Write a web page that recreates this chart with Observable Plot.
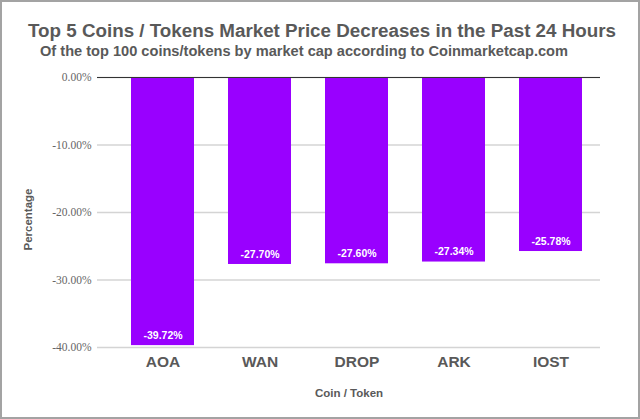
<!DOCTYPE html>
<html>
<head>
<meta charset="utf-8">
<script src="https://cdn.jsdelivr.net/npm/d3@7"></script>
<script src="https://cdn.jsdelivr.net/npm/@observablehq/plot@0.6"></script>
<style>
  html, body { margin: 0; padding: 0; background: #fff; }
  #wrap { position: relative; width: 640px; height: 419px; overflow: hidden; background: #fff; }
  #frame { position: absolute; left: 0; top: 0; width: 640px; height: 419px; box-sizing: border-box; border: 2px solid #a3a3a3; pointer-events: none; }
  #head { height: 65px; position: relative; font-family: "Liberation Sans", Arial, sans-serif; font-weight: bold; color: #595959; }
  #title { position: absolute; left: 2px; width: 640px; top: 20px; text-align: center; font-size: 18.8px; line-height: 22px; }
  #subtitle { position: absolute; left: 40px; top: 42px; font-size: 14.6px; line-height: 18px; }
  svg { display: block; }
</style>
</head>
<body>
<div id="wrap">
  <div id="head">
    <div id="title">Top 5 Coins / Tokens Market Price Decreases in the Past 24 Hours</div>
    <div id="subtitle">Of the top 100 coins/tokens by market cap according to Coinmarketcap.com</div>
  </div>
  <div id="chart"></div>
  <div id="frame"></div>
</div>
<script>
const coins = ["AOA", "WAN", "DROP", "ARK", "IOST"];
const changes = [-39.72, -27.70, -27.60, -27.34, -25.78];
const yTicks = [0, -10, -20, -30, -40];
const xTitle = "Coin / Token";
const yTitle = "Percentage";

const data = coins.map((c, i) => ({coin: c, value: changes[i]}));
const fmt = d => d.toFixed(2) + "%";

const chart = Plot.plot({
  width: 640,
  height: 354,
  marginTop: 12,
  marginBottom: 72,
  marginLeft: 97,
  marginRight: 40,
  style: {background: "transparent"},
  x: {type: "band", domain: coins, paddingInner: 0.35, paddingOuter: 0.175, insetLeft: 17, label: null},
  y: {domain: [-40, 0], label: null},
  marks: [
    Plot.ruleY(yTicks, {stroke: "#d4d4d4", strokeWidth: 1.5}),
    Plot.barY(data, {x: "coin", y: "value", fill: "#9900ff"}),
    Plot.ruleY([0], {stroke: "#333", strokeWidth: 1.2}),
    Plot.text(data, {x: "coin", y: "value", text: d => fmt(d.value), dy: -10, fill: "#fff",
      fontWeight: "bold", fontSize: 10.5, fontFamily: "'Liberation Sans Narrow', 'Liberation Sans', Arial, sans-serif"}),
    Plot.axisY({ticks: yTicks, tickFormat: fmt, tickSize: 0, tickPadding: 6, label: null,
      fontFamily: "'Liberation Serif', serif", fontSize: 11.5, color: "#666"}),
    Plot.axisX({tickSize: 0, tickPadding: 8, label: null, fontSize: 15.5, fontWeight: "bold",
      fontFamily: "'Liberation Sans', Arial, sans-serif", color: "#595959"}),
    Plot.text([xTitle], {frameAnchor: "bottom", dy: 49, text: d => d, fontWeight: "bold", fontSize: 11.5,
      fontFamily: "'Liberation Sans', Arial, sans-serif", fill: "#595959"}),
    Plot.text([yTitle], {frameAnchor: "left", textAnchor: "middle", dx: -69, dy: 7, rotate: -90, text: d => d, fontWeight: "bold", fontSize: 11.5,
      fontFamily: "'Liberation Sans', Arial, sans-serif", fill: "#595959"})
  ]
});
document.getElementById("chart").appendChild(chart);
</script>
</body>
</html>
